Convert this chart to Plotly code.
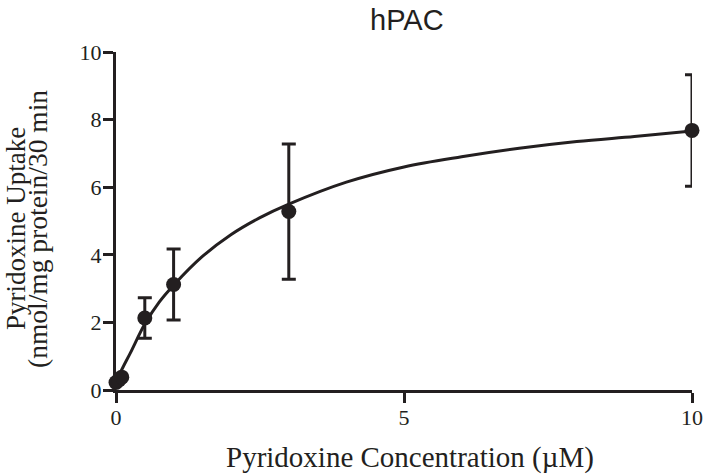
import plotly.graph_objects as go

# Measured data points
conc = [0, 0.05, 0.1, 0.5, 1, 3, 10]
uptake = [0.22, 0.3, 0.38, 2.13, 3.12, 5.28, 7.68]
err = [0.0, 0.0, 0.0, 0.6, 1.05, 2.0, 1.65]

# Fitted curve
fit_x = [0, 0.1, 0.25, 0.5, 0.75, 1, 1.5, 2, 2.5, 3, 4, 5, 6, 7, 8, 9, 10]
fit_y = [0.2, 0.6, 1.1, 1.95, 2.6, 3.1, 3.95, 4.6, 5.1, 5.5, 6.15, 6.6, 6.9, 7.15, 7.35, 7.5, 7.66]

title_text = "hPAC"
x_title = "Pyridoxine Concentration (µM)"
y_title_lines = ["Pyridoxine Uptake", "(nmol/mg protein/30 min"]

ink = "#231f20"
serif = "Liberation Serif, Times New Roman, serif"

fig = go.Figure()
fig.add_trace(go.Scatter(
    x=fit_x, y=fit_y, mode="lines", line=dict(color=ink, width=3, shape="spline"),
    cliponaxis=False, hoverinfo="skip"))
fig.add_trace(go.Scatter(
    x=conc, y=uptake, mode="markers",
    marker=dict(color=ink, size=15),
    error_y=dict(type="data", array=err, visible=True, color=ink, thickness=3, width=7),
    cliponaxis=False))

fig.update_layout(
    width=704, height=475,
    margin=dict(l=116, r=12, t=52, b=85, autoexpand=False),
    paper_bgcolor="white", plot_bgcolor="white",
    showlegend=False,
    font=dict(family=serif, color=ink),
)
fig.add_annotation(text=title_text, xref="paper", yref="paper", x=0.5, y=1.0,
                   xshift=3, yshift=32, xanchor="center", yanchor="middle", showarrow=False,
                   font=dict(family="Liberation Sans, Arial, sans-serif", size=29, color=ink))
fig.add_annotation(text=x_title, xref="paper", yref="paper", x=0.5, y=0,
                   xshift=6, yshift=-67, xanchor="center", yanchor="middle", showarrow=False,
                   font=dict(family=serif, size=29, color=ink))
fig.add_annotation(text=y_title_lines[0], xref="paper", yref="paper", x=0, y=0.5,
                   xshift=-100, yshift=-8, textangle=-90, xanchor="center", yanchor="middle",
                   showarrow=False, font=dict(family=serif, size=27, color=ink))
fig.add_annotation(text=y_title_lines[1], xref="paper", yref="paper", x=0, y=0.5,
                   xshift=-79, yshift=-8, textangle=-90, xanchor="center", yanchor="middle",
                   showarrow=False, font=dict(family=serif, size=27.5, color=ink))

fig.update_xaxes(
    range=[0, 10], tickvals=[0, 5, 10], ticktext=["0", "5", "10"],
    showline=True, linewidth=3, linecolor=ink, ticks="outside", ticklen=10, tickwidth=3,
    tickcolor=ink, showgrid=False, zeroline=False, automargin=False,
    ticklabelstandoff=-4, ticklabeloverflow="allow",
    tickfont=dict(family=serif, size=22, color=ink),
)
fig.update_yaxes(
    range=[0, 10], tickvals=[0, 2, 4, 6, 8, 10],
    showline=True, linewidth=3, linecolor=ink, ticks="outside", ticklen=10, tickwidth=3,
    tickcolor=ink, showgrid=False, zeroline=False, automargin=False,
    ticklabelstandoff=-3,
    tickfont=dict(family=serif, size=22, color=ink),
)
fig.write_html("out.html",
               config={"displayModeBar": False},
               post_script="document.body.style.margin='0';document.body.style.overflow='hidden';")
